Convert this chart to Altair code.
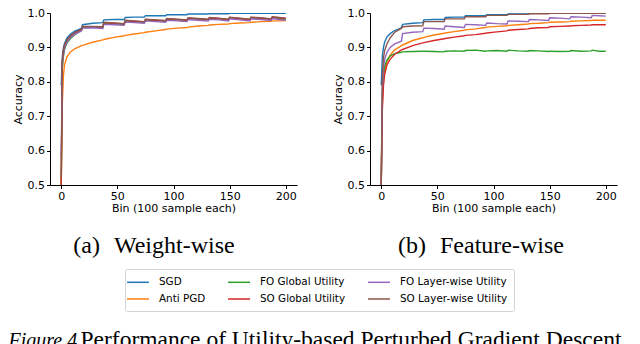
import altair as alt
import pandas as pd

# ---------------- data ----------------
BINS = [0, 1, 2, 3, 5, 8, 12, 18, 19, 28, 37, 38, 47, 56, 57, 65, 74, 75, 84, 93, 94,
        103, 112, 113, 122, 131, 132, 140, 149, 150, 159, 168, 169, 178, 187, 188, 194, 200]

SERIES = ["SGD", "Anti PGD", "FO Global Utility", "SO Global Utility",
          "FO Layer-wise Utility", "SO Layer-wise Utility"]
COLORS = ["#1f77b4", "#ff7f0e", "#2ca02c", "#d62728", "#9467bd", "#8c564b"]

# (a) Weight-wise
W_SGD = [0.79, 0.875, 0.90, 0.912, 0.927, 0.938, 0.947, 0.955, 0.966, 0.970, 0.972, 0.980, 0.981,
         0.981, 0.987, 0.988, 0.988, 0.992, 0.992, 0.992, 0.995, 0.995, 0.995, 0.997, 0.997, 0.997,
         0.998, 0.998, 0.998, 0.999, 0.999, 0.999, 0.999, 0.999, 0.999, 0.999, 0.999, 0.999]
W_ANTI = [0.50, 0.74, 0.82, 0.85, 0.872, 0.886, 0.896, 0.905, 0.906, 0.915, 0.922, 0.923, 0.929,
          0.934, 0.935, 0.939, 0.943, 0.944, 0.948, 0.952, 0.953, 0.956, 0.958, 0.959, 0.962, 0.964,
          0.965, 0.967, 0.968, 0.969, 0.971, 0.972, 0.973, 0.975, 0.976, 0.977, 0.977, 0.978]
W_FOG = [0.50, 0.84, 0.875, 0.895, 0.912, 0.925, 0.937, 0.950, 0.958, 0.959, 0.958, 0.970, 0.969,
         0.967, 0.977, 0.975, 0.973, 0.980, 0.978, 0.976, 0.982, 0.980, 0.978, 0.984, 0.982, 0.980,
         0.985, 0.983, 0.980, 0.986, 0.983, 0.980, 0.986, 0.984, 0.981, 0.987, 0.984, 0.982]
W_SOG = [0.50, 0.86, 0.89, 0.905, 0.920, 0.932, 0.942, 0.952, 0.960, 0.960, 0.959, 0.972, 0.970,
         0.968, 0.978, 0.976, 0.974, 0.981, 0.979, 0.977, 0.983, 0.981, 0.979, 0.985, 0.983, 0.981,
         0.986, 0.984, 0.981, 0.987, 0.984, 0.981, 0.987, 0.985, 0.982, 0.988, 0.986, 0.984]
W_FOL = [0.58, 0.85, 0.88, 0.898, 0.915, 0.928, 0.938, 0.948, 0.956, 0.957, 0.955, 0.967, 0.966,
         0.964, 0.974, 0.972, 0.970, 0.977, 0.975, 0.973, 0.979, 0.977, 0.975, 0.981, 0.979, 0.977,
         0.982, 0.980, 0.977, 0.983, 0.980, 0.977, 0.983, 0.981, 0.978, 0.984, 0.981, 0.979]
W_SOL = [0.52, 0.86, 0.89, 0.906, 0.921, 0.933, 0.943, 0.953, 0.961, 0.961, 0.960, 0.973, 0.971,
         0.969, 0.979, 0.977, 0.975, 0.982, 0.980, 0.978, 0.984, 0.982, 0.980, 0.986, 0.984, 0.982,
         0.987, 0.985, 0.982, 0.988, 0.985, 0.982, 0.988, 0.986, 0.983, 0.989, 0.987, 0.985]

# (b) Feature-wise
F_SGD = [0.79, 0.875, 0.90, 0.915, 0.930, 0.940, 0.949, 0.957, 0.967, 0.970, 0.972, 0.980, 0.981,
         0.981, 0.987, 0.988, 0.988, 0.992, 0.992, 0.992, 0.995, 0.995, 0.995, 0.997, 0.997, 0.997,
         0.999, 0.999, 0.999, 0.999, 0.999, 0.999, 0.999, 0.999, 0.999, 0.999, 0.999, 0.999]
F_ANTI = [0.50, 0.74, 0.80, 0.83, 0.858, 0.878, 0.893, 0.905, 0.907, 0.920, 0.928, 0.929, 0.936,
          0.941, 0.942, 0.946, 0.950, 0.951, 0.954, 0.958, 0.959, 0.961, 0.963, 0.964, 0.966, 0.968,
          0.969, 0.970, 0.972, 0.973, 0.974, 0.975, 0.976, 0.977, 0.978, 0.979, 0.979, 0.979]
F_FOG = [0.50, 0.76, 0.82, 0.845, 0.863, 0.875, 0.882, 0.886, 0.887, 0.888, 0.889, 0.889, 0.888,
         0.887, 0.889, 0.890, 0.889, 0.891, 0.892, 0.889, 0.890, 0.891, 0.889, 0.892, 0.890, 0.889,
         0.891, 0.890, 0.888, 0.889, 0.888, 0.889, 0.891, 0.889, 0.890, 0.892, 0.889, 0.889]
F_SOG = [0.50, 0.72, 0.79, 0.82, 0.848, 0.866, 0.880, 0.893, 0.894, 0.905, 0.913, 0.914, 0.920,
         0.925, 0.926, 0.930, 0.934, 0.935, 0.937, 0.941, 0.942, 0.945, 0.948, 0.950, 0.952, 0.954,
         0.955, 0.957, 0.958, 0.960, 0.961, 0.962, 0.963, 0.964, 0.965, 0.966, 0.966, 0.966]
F_FOL = [0.50, 0.78, 0.84, 0.865, 0.885, 0.900, 0.910, 0.918, 0.940, 0.944, 0.946, 0.956, 0.955,
         0.953, 0.962, 0.960, 0.958, 0.967, 0.966, 0.964, 0.971, 0.969, 0.968, 0.977, 0.976, 0.975,
         0.981, 0.980, 0.978, 0.986, 0.985, 0.983, 0.989, 0.988, 0.986, 0.993, 0.992, 0.991]
F_SOL = [0.50, 0.82, 0.87, 0.89, 0.910, 0.928, 0.944, 0.955, 0.960, 0.962, 0.963, 0.975, 0.975,
         0.975, 0.983, 0.983, 0.983, 0.989, 0.989, 0.989, 0.993, 0.993, 0.993, 0.996, 0.996, 0.996,
         0.998, 0.998, 0.998, 0.999, 0.999, 0.999, 0.999, 0.999, 0.999, 0.999, 0.999, 0.999]

X_TICKS = [0, 50, 100, 150, 200]
Y_TICKS = [0.5, 0.6, 0.7, 0.8, 0.9, 1.0]
X_TITLE = "Bin (100 sample each)"
Y_TITLE = "Accuracy"
SUBCAPTIONS = ["(a)\u2002\u200aWeight-wise", "(b)\u2002\u200aFeature-wise"]
CAPTION_ITALIC = "Figure 4."
CAPTION_REST = "Performance of Utility-based Perturbed Gradient Descent"


def long_frame(vals):
    rows = []
    for name, ys in zip(SERIES, vals):
        for b, y in zip(BINS, ys):
            rows.append({"bin": b, "acc": y, "series": name})
    return pd.DataFrame(rows)


df_w = long_frame([W_SGD, W_ANTI, W_FOG, W_SOG, W_FOL, W_SOL])
df_f = long_frame([F_SGD, F_ANTI, F_FOG, F_SOG, F_FOL, F_SOL])

color = alt.Color(
    "series:N",
    scale=alt.Scale(domain=SERIES, range=COLORS),
    legend=alt.Legend(title=None, orient="none", legendX=75, legendY=256,
                      columns=3, symbolType="M-1.833,0H1.833", symbolSize=144,
                      symbolStrokeWidth=1.5, labelFont="DejaVu Sans", labelFontSize=10.4,
                      labelColor="black", labelOffset=14, columnPadding=19, rowPadding=4,
                      padding=6, strokeColor="#d4d4d4", fillColor="white",
                      cornerRadius=2, labelLimit=200),
)

PW, PH = 247, 172
xax = alt.Axis(values=X_TICKS, title=X_TITLE, grid=False, labelFont="DejaVu Sans",
               labelFontSize=11, titleFont="DejaVu Sans", titleFontSize=11,
               titleFontWeight="normal", labelColor="black", titleColor="black",
               domainColor="black", tickColor="black", tickSize=3.5, labelPadding=2,
               titlePadding=1, labelFlush=False)
yax = alt.Axis(values=Y_TICKS, format=".1f", title=Y_TITLE, grid=False,
               labelFont="DejaVu Sans", labelFontSize=11, titleFont="DejaVu Sans",
               titleFontSize=11, titleFontWeight="normal", labelColor="black",
               titleColor="black", domainColor="black", tickColor="black", tickSize=3.5,
               labelPadding=2, titlePadding=4)


def text_layer(txt, x, y, size, style="normal", align="center"):
    d = pd.DataFrame({"t": [txt]})
    return alt.Chart(d).mark_text(
        font="Liberation Serif", fontSize=size, fontStyle=style, align=align,
        baseline="alphabetic", color="black").encode(
        text="t:N", x=alt.value(x), y=alt.value(y))


def panel(df, extra):
    lines = alt.Chart(df).mark_line(strokeWidth=1.4, clip=True).encode(
        x=alt.X("bin:Q", scale=alt.Scale(domain=[-10, 210], nice=False), axis=xax),
        y=alt.Y("acc:Q", scale=alt.Scale(domain=[0.5, 1.0], nice=False, zero=False), axis=yax),
        color=color,
        order=alt.Order("bin:Q"),
    )
    return alt.layer(lines, *extra).properties(width=PW, height=PH)


left = panel(df_w, [
    text_layer(SUBCAPTIONS[0], 104, 240, 24),
    text_layer(CAPTION_ITALIC, -41.5, 334, 20, "italic", "left"),
    text_layer(CAPTION_REST, 30.5, 334, 23.5, "normal", "left"),
])
right = panel(df_f, [
    text_layer(SUBCAPTIONS[1], 111, 240, 24),
])

chart = alt.hconcat(left, right, spacing=73, bounds="flush").properties(
    padding={"left": 0, "top": -1, "right": 0, "bottom": 0}
).configure_view(stroke=None).configure_axis(domainWidth=1, tickWidth=1)

chart.save("out.html", embed_options={"renderer": "svg", "actions": False})
